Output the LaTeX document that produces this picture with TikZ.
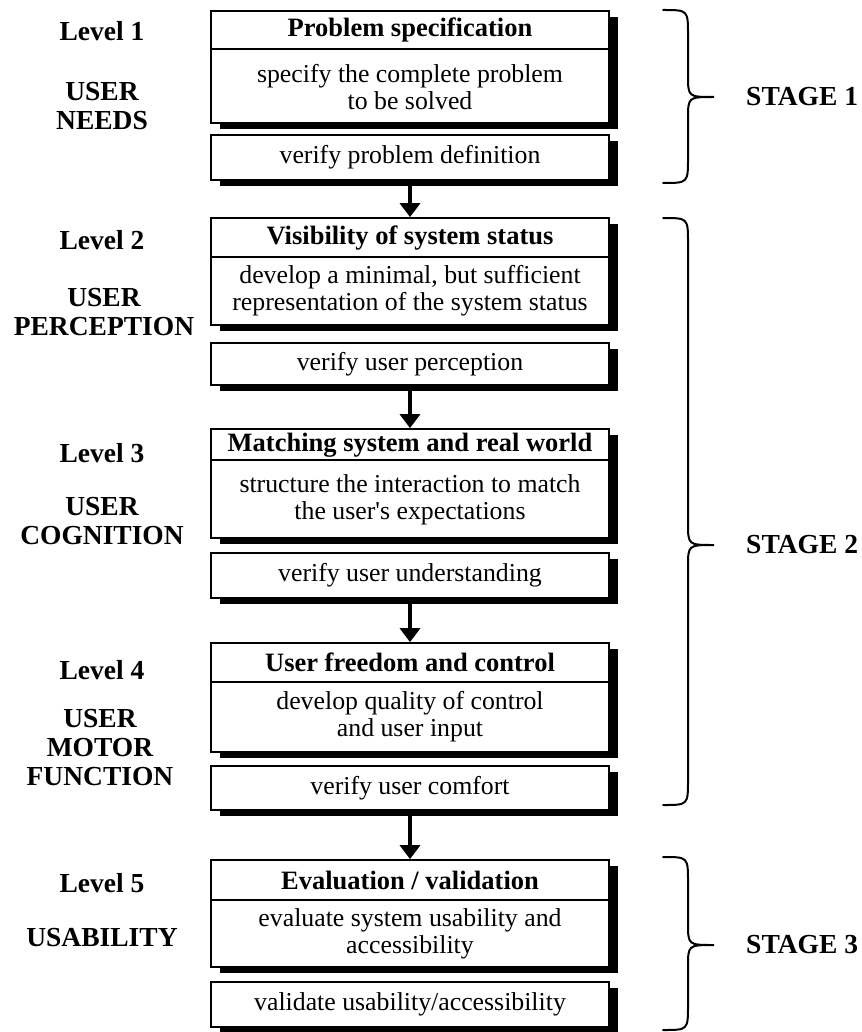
\documentclass[tikz,border=0pt]{standalone}
\usepackage{fontspec}
\setmainfont{Liberation Serif}
\usetikzlibrary{arrows.meta}
\tikzset{
  x=1pt,y=-1pt,
  box/.style={draw, line width=1.7pt, fill=white, minimum width=398pt, inner sep=0pt,
    preaction={fill=black, transform canvas={xshift=9pt, yshift=-6pt}}},
  hdr/.style={font=\fontsize{26.5}{27}\selectfont\bfseries, inner sep=0pt},
  body/.style={font=\fontsize{25.8}{27}\selectfont, align=center, inner sep=0pt},
  lbl/.style={font=\fontsize{27.5}{29}\selectfont\bfseries, align=center, inner sep=0pt},
  divline/.style={line width=1.5pt},
  arr/.style={line width=4pt, -{Triangle[length=14pt,width=20pt]}},
  brc/.style={line width=2pt, line cap=round}
}
\begin{document}
\begin{tikzpicture}
\useasboundingbox (0,0) rectangle (861,1032);
% Box 1
\node[box, minimum height=112pt] (m1) at (410,67) {};
\draw[divline] (m1.west |- 0,49) -- (m1.east |- 0,49);
\node[hdr] (h1) at (410,30) {Problem specification};
\node[body] (b1) at (410,87) {specify the complete problem\\to be solved};
\node[box, minimum height=45pt] (v1) at (410,157.5) {};
\node[body] (t1) at (v1.center) {verify problem definition};
% Box 2
\node[box, minimum height=107pt] (m2) at (410,271.5) {};
\draw[divline] (m2.west |- 0,257) -- (m2.east |- 0,257);
\node[hdr] (h2) at (410,238) {Visibility of system status};
\node[body] (b2) at (410,291) {develop a minimal, but sufficient\\representation of the system status};
\node[box, minimum height=42pt] (v2) at (410,364) {};
\node[body] (t2) at (v2.center) {verify user perception};
% Box 3
\node[box, minimum height=109pt] (m3) at (410,483.5) {};
\draw[divline] (m3.west |- 0,460) -- (m3.east |- 0,460);
\node[hdr] (h3) at (410,445) {Matching system and real world};
\node[body] (b3) at (410,500) {structure the interaction to match\\the user\textquotesingle s expectations};
\node[box, minimum height=45pt] (v3) at (410,575.5) {};
\node[body] (t3) at (v3.center) {verify user understanding};
% Box 4
\node[box, minimum height=109pt] (m4) at (410,697.5) {};
\draw[divline] (m4.west |- 0,682) -- (m4.east |- 0,682);
\node[hdr] (h4) at (410,662) {User freedom and control};
\node[body] (b4) at (410,717) {develop quality of control\\and user input};
\node[box, minimum height=44pt] (v4) at (410,788) {};
\node[body] (t4) at (v4.center) {verify user comfort};
% Box 5
\node[box, minimum height=107pt] (m5) at (410,913.5) {};
\draw[divline] (m5.west |- 0,900) -- (m5.east |- 0,900);
\node[hdr] (h5) at (410,880) {Evaluation / validation};
\node[body] (b5) at (410,933.5) {evaluate system usability and\\accessibility};
\node[box, minimum height=45pt] (v5) at (410,1004.5) {};
\node[body] (t5) at (v5.center) {validate usability/accessibility};
% Arrows
\draw[arr] (v1.south) -- (m2.north);
\draw[arr] (v2.south) -- (m3.north);
\draw[arr] (v3.south) -- (m4.north);
\draw[arr] (v4.south) -- (m5.north);
% Left labels
\node[lbl] (l1) at (102,31) {Level 1};
\node[lbl] (u1) at (102,106) {USER\\NEEDS};
\node[lbl] (l2) at (102,240) {Level 2};
\node[lbl] (u2) at (104,312) {USER\\PERCEPTION};
\node[lbl] (l3) at (102,453) {Level 3};
\node[lbl] (u3) at (102,521) {USER\\COGNITION};
\node[lbl] (l4) at (102,670) {Level 4};
\node[lbl] (u4) at (100,748) {USER\\MOTOR\\FUNCTION};
\node[lbl] (l5) at (102,883) {Level 5};
\node[lbl] (u5) at (102,938) {USABILITY};
% Braces
\draw[brc] (663,10) .. controls (688,10) .. (688,35) -- (688,75) .. controls (688,97) .. (714,97)
  .. controls (688,97) .. (688,119) -- (688,158) .. controls (688,183) .. (663,183);
\draw[brc] (663,218) .. controls (688,218) .. (688,243) -- (688,523) .. controls (688,545) .. (714,545)
  .. controls (688,545) .. (688,567) -- (688,780) .. controls (688,805) .. (663,805);
\draw[brc] (663,857) .. controls (688,857) .. (688,882) -- (688,923) .. controls (688,945) .. (714,945)
  .. controls (688,945) .. (688,967) -- (688,1005) .. controls (688,1030) .. (663,1030);
% Stage labels
\node[lbl, anchor=west] (s1) at (746,97) {STAGE 1};
\node[lbl, anchor=west] (s2) at (746,545) {STAGE 2};
\node[lbl, anchor=west] (s3) at (746,945) {STAGE 3};
\end{tikzpicture}
\end{document}
